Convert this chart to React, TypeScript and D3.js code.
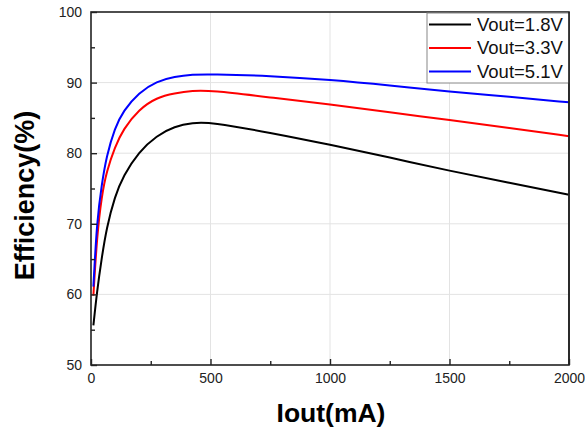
import React, { useEffect, useRef } from 'react'
import * as d3 from 'd3'

// Iout (mA) sample points
const currents = [10, 25, 45, 65, 100, 135, 200, 275, 350, 425, 500, 750, 1000, 1250, 1500, 1750, 2000]
// efficiency (%) for each output voltage
const eff18 = [55.6, 60.4, 65.2, 69.4, 73.9, 76.8, 80.2, 82.5, 83.8, 84.3, 84.4, 82.9, 81.2, 79.4, 77.5, 75.8, 74.1]
const eff33 = [59.8, 68.3, 74.0, 77.4, 80.9, 83.4, 86.2, 87.9, 88.5, 88.85, 88.9, 87.9, 86.9, 85.8, 84.7, 83.6, 82.4]
const eff51 = [61.1, 70.5, 75.6, 79.6, 83.6, 86.0, 88.6, 90.2, 90.85, 91.15, 91.2, 90.95, 90.4, 89.6, 88.7, 88.0, 87.2]

const seriesNames = ['Vout=1.8V', 'Vout=3.3V', 'Vout=5.1V']
const seriesColors = ['#000000', '#ff0000', '#0000ff']
const xTicks = [0, 500, 1000, 1500, 2000]
const yTicks = [50, 60, 70, 80, 90, 100]

const W = 585
const H = 431
const margin = { left: 91, right: 16, top: 12, bottom: 66 }
const font = 'Arial, "Liberation Sans", sans-serif'

export default function App () {
  const ref = useRef<SVGSVGElement>(null)

  useEffect(() => {
    const svg = d3.select(ref.current)
    svg.selectAll('*').remove()

    const x = d3.scaleLinear().domain([0, 2000]).range([margin.left, W - margin.right])
    const y = d3.scaleLinear().domain([50, 100]).range([H - margin.bottom, margin.top])
    const [x0, x1] = x.range()
    const [y0, y1] = y.range()

    svg.append('rect').attr('width', W).attr('height', H).attr('fill', '#fff')

    // grid
    const grid = svg.append('g').attr('stroke', '#e3e3e3').attr('stroke-width', 1)
    xTicks.slice(1, -1).forEach(t => {
      grid.append('line').attr('x1', x(t)).attr('x2', x(t)).attr('y1', y0).attr('y2', y1)
    })
    yTicks.slice(1, -1).forEach(t => {
      grid.append('line').attr('x1', x0).attr('x2', x1).attr('y1', y(t)).attr('y2', y(t))
    })

    // curves
    const all = [eff18, eff33, eff51]
    const line = d3.line<number>()
      .x((d, i) => x(currents[i]))
      .y(d => y(d))
      .curve(d3.curveBasis)
    all.forEach((vals, k) => {
      svg.append('path')
        .attr('d', line(vals))
        .attr('fill', 'none')
        .attr('stroke', seriesColors[k])
        .attr('stroke-width', 2)
    })

    // frame
    svg.append('rect')
      .attr('x', x0).attr('y', y1)
      .attr('width', x1 - x0).attr('height', y0 - y1)
      .attr('fill', 'none').attr('stroke', '#222').attr('stroke-width', 1.6)

    // axes with inward ticks
    const xAxis = d3.axisBottom(x).tickValues(d3.range(0, 2001, 250)).tickSize(-5).tickFormat(d => (+d % 500 === 0 ? String(d) : ''))
    const gx = svg.append('g').attr('transform', `translate(0,${y0})`).call(xAxis)
    gx.select('.domain').remove()
    gx.selectAll('.tick line').attr('stroke', '#222').attr('stroke-width', 1.4)
      .attr('y2', (d: any) => (d % 500 === 0 ? -6 : -4))
    gx.selectAll('.tick text').attr('y', 8).attr('font-size', 14).attr('font-family', font).attr('fill', '#222')

    const yAxis = d3.axisLeft(y).tickValues(d3.range(50, 101, 5)).tickSize(-5).tickFormat(d => (+d % 10 === 0 ? String(d) : ''))
    const gy = svg.append('g').attr('transform', `translate(${x0},0)`).call(yAxis)
    gy.select('.domain').remove()
    gy.selectAll('.tick line').attr('stroke', '#222').attr('stroke-width', 1.4)
      .attr('x2', (d: any) => (d % 10 === 0 ? 6 : 4))
    gy.selectAll('.tick text').attr('x', -9).attr('font-size', 14).attr('font-family', font).attr('fill', '#222')

    // axis titles
    svg.append('text')
      .attr('x', (x0 + x1) / 2 + 1).attr('y', 422)
      .attr('text-anchor', 'middle')
      .attr('font-family', font).attr('font-weight', 'bold').attr('font-size', 26.5)
      .text('Iout(mA)')
    svg.append('text')
      .attr('transform', `translate(34,${(y0 + y1) / 2 + 7}) rotate(-90)`)
      .attr('text-anchor', 'middle')
      .attr('font-family', font).attr('font-weight', 'bold').attr('font-size', 27)
      .text('Efficiency(%)')

    // legend
    const lg = svg.append('g')
    lg.append('rect')
      .attr('x', 427).attr('y', y1 + 1).attr('width', x1 - 427).attr('height', 70)
      .attr('fill', '#fff').attr('stroke', '#888').attr('stroke-width', 1)
    seriesNames.forEach((name, i) => {
      const cy = 24.5 + i * 23.5
      lg.append('line').attr('x1', 429).attr('x2', 471).attr('y1', cy).attr('y2', cy)
        .attr('stroke', seriesColors[i]).attr('stroke-width', 2)
      lg.append('text').attr('x', 477).attr('y', cy).attr('dy', '0.35em')
        .attr('font-family', font).attr('font-size', 18.5).attr('fill', '#111')
        .text(name)
    })
    // redraw right frame edge over legend border
    svg.append('line').attr('x1', x1).attr('x2', x1).attr('y1', y1).attr('y2', y0)
      .attr('stroke', '#222').attr('stroke-width', 1.6)
  }, [])

  return (
    <svg ref={ref} width={W} height={H} style={{ position: 'absolute', left: 0, top: 0, display: 'block' }} />
  )
}
